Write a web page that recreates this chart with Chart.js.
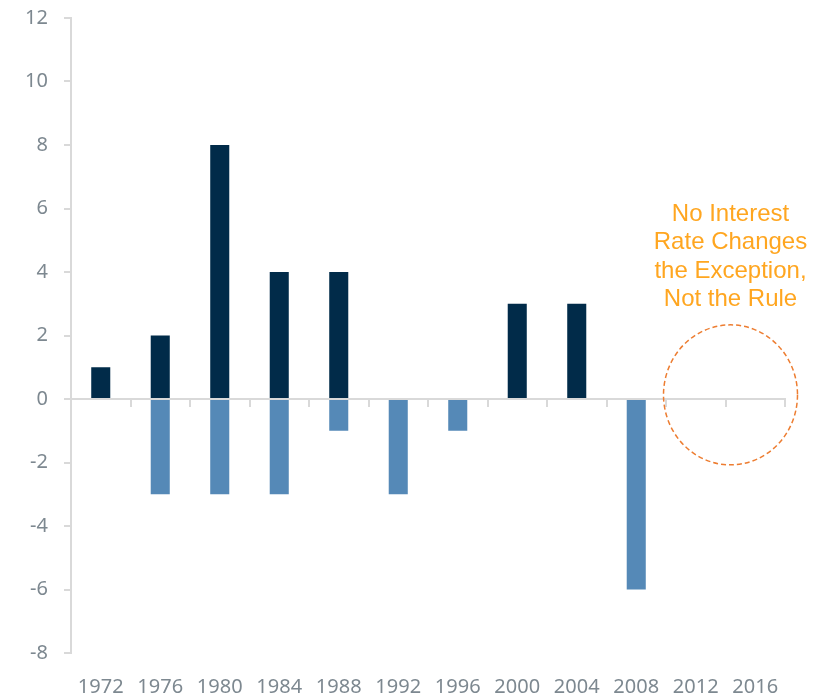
<!DOCTYPE html>
<html>
<head>
<meta charset="utf-8">
<script src="https://cdn.jsdelivr.net/npm/chart.js@4/dist/chart.umd.min.js"></script>
<style>
  html, body { margin: 0; padding: 0; background: #fff; }
  #wrap { width: 831px; height: 697px; }
</style>
</head>
<body>
<div id="wrap"><canvas id="rateChart"></canvas></div>
<script>
// Election years
const years = ['1972', '1976', '1980', '1984', '1988', '1992', '1996', '2000', '2004', '2008', '2012', '2016'];
// Rate hikes (positive) and cuts (negative) per election year
const hikes = [1, 2, 8, 4, 4, 0, 0, 3, 3, 0, 0, 0];
const cuts = [0, -3, -3, -3, -1, -3, -1, 0, 0, -6, 0, 0];
// Axis range
const yMin = -8;
const yMax = 12;
const yStep = 2;
const noteLines = ['No Interest', 'Rate Changes', 'the Exception,', 'Not the Rule'];

const axisGrey = '#d9d9d9';
const labelGrey = '#7d8890';
const fontFamily = '"Noto Sans", sans-serif';

// Callout text + dashed circle over the last two (empty) elections
const calloutPlugin = {
  id: 'callout',
  afterDatasetsDraw(chart) {
    const ctx = chart.ctx;
    const x = chart.scales.x;
    const y = chart.scales.y;
    const cx = (x.getPixelForValue(10) + x.getPixelForValue(11)) / 2 + 5;
    const cy = y.getPixelForValue(0.13);

    ctx.save();
    ctx.strokeStyle = '#ed7d31';
    ctx.lineWidth = 1.5;
    ctx.setLineDash([5, 3]);
    ctx.beginPath();
    ctx.ellipse(cx, cy, 67, 70, 0, 0, Math.PI * 2);
    ctx.stroke();

    ctx.setLineDash([]);
    ctx.fillStyle = '#ffa620';
    ctx.font = '24px "Liberation Sans", Arial, sans-serif';
    ctx.textAlign = 'center';
    ctx.textBaseline = 'middle';
    const top = y.getPixelForValue(5.83);
    noteLines.forEach((line, i) => {
      ctx.fillText(line, cx, top + i * 28.5);
    });
    ctx.restore();
  }
};

document.addEventListener('DOMContentLoaded', function () {
  const ctx = document.getElementById('rateChart').getContext('2d');
  new Chart(ctx, {
    type: 'bar',
    data: {
      labels: years,
      datasets: [
        {
          label: 'Hikes',
          data: hikes,
          backgroundColor: '#012b49',
          categoryPercentage: 1,
          barPercentage: 0.32,
        },
        {
          label: 'Cuts',
          data: cuts,
          backgroundColor: '#5589b7',
          categoryPercentage: 1,
          barPercentage: 0.32,
        },
      ],
    },
    options: {
      responsive: true,
      maintainAspectRatio: false,
      animation: false,
      layout: {
        padding: { top: 18, right: 46, bottom: 0, left: 0 },
      },
      plugins: {
        legend: { display: false },
        tooltip: { enabled: false },
      },
      scales: {
        x: {
          stacked: true,
          afterFit(scale) {
            scale.height = 44;
          },
          border: { display: false },
          grid: { display: false, drawTicks: false },
          ticks: {
            color: labelGrey,
            font: { family: fontFamily, size: 20 },
            padding: 22,
            maxRotation: 0,
            autoSkip: false,
          },
        },
        // zero line with tick marks between categories
        x2: {
          type: 'category',
          labels: years,
          position: { y: 0 },
          offset: true,
          border: { display: true, color: axisGrey, width: 2 },
          grid: {
            offset: true,
            drawOnChartArea: false,
            drawTicks: true,
            tickLength: 7,
            color: axisGrey,
            lineWidth: 2,
          },
          ticks: { display: false },
        },
        y: {
          stacked: true,
          min: yMin,
          max: yMax,
          afterFit(scale) {
            scale.width = 71;
            scale.paddingTop = 0;
            scale.paddingBottom = 0;
          },
          border: { display: true, color: axisGrey, width: 2 },
          grid: {
            drawOnChartArea: false,
            drawTicks: true,
            tickLength: 7,
            color: axisGrey,
            lineWidth: 2,
          },
          ticks: {
            stepSize: yStep,
            color: labelGrey,
            font: { family: fontFamily, size: 20 },
            padding: 16,
          },
        },
      },
    },
    plugins: [calloutPlugin],
  });
});
</script>
</body>
</html>
